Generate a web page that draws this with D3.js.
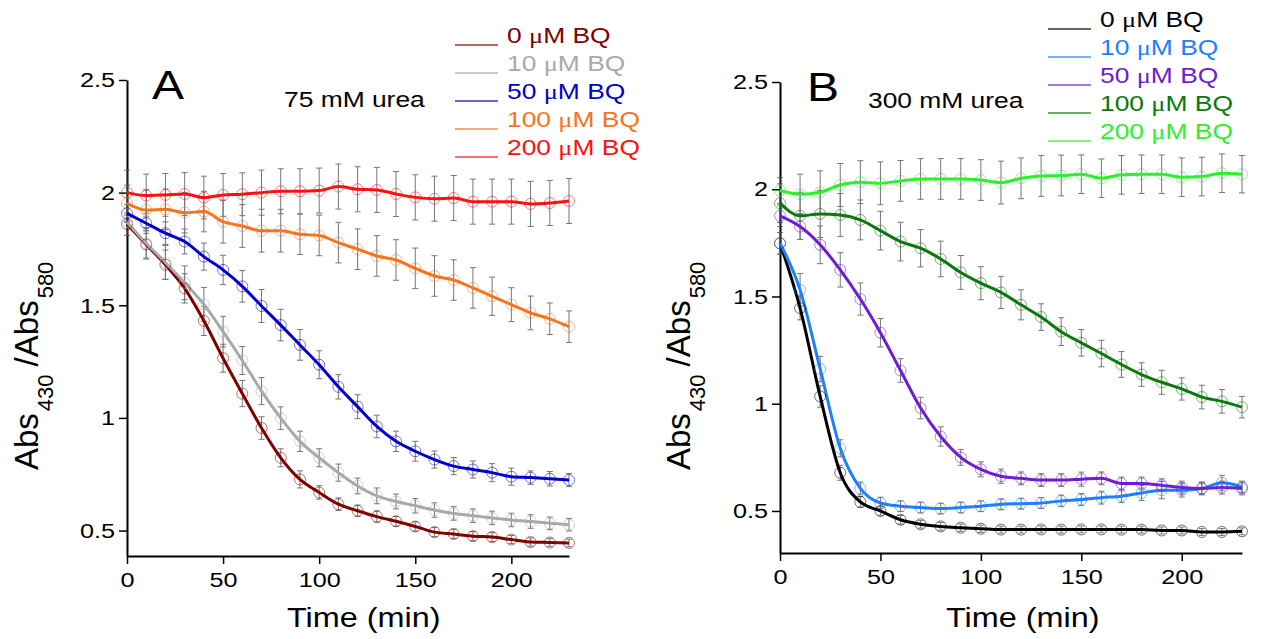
<!DOCTYPE html>
<html>
<head>
<meta charset="utf-8">
<script src="https://cdn.jsdelivr.net/npm/d3@7"></script>
<style>
  body { margin: 0; background: #fff; }
  svg { display: block; }
  text { font-family: "Liberation Sans", Arial, Helvetica, sans-serif; }
</style>
</head>
<body>
<div id="chart"></div>
<script>
// ── data ─────────────────────────────────────────────────────────
const time = [0, 10, 20, 30, 40, 50, 60, 70, 80, 90, 100, 110,
              120, 130, 140, 150, 160, 170, 180, 190, 200, 210, 220, 230];
const xTicks = [0, 50, 100, 150, 200];
const yTicks = [0.5, 1, 1.5, 2, 2.5];
const doseLabels = ["0", "10", "50", "100", "200"];

// Panel A: 75 mM urea
const a0    = [1.86, 1.77, 1.68, 1.575, 1.431, 1.265, 1.108, 0.955, 0.823, 0.727, 0.669, 0.617,
               0.588, 0.562, 0.541, 0.518, 0.493, 0.485, 0.475, 0.471, 0.46, 0.449, 0.447, 0.445];
const a0Err = [0.05, 0.06, 0.065, 0.065, 0.065, 0.062, 0.058, 0.05, 0.04, 0.038, 0.03, 0.028,
               0.025, 0.025, 0.022, 0.02, 0.02, 0.02, 0.02, 0.02, 0.018, 0.018, 0.017, 0.017];
const a10    = [1.87, 1.775, 1.69, 1.6, 1.504, 1.383, 1.255, 1.119, 0.999, 0.896, 0.823, 0.757,
                0.698, 0.654, 0.629, 0.61, 0.591, 0.576, 0.566, 0.556, 0.547, 0.54, 0.532, 0.526];
const a10Err = [0.06, 0.07, 0.075, 0.075, 0.075, 0.068, 0.062, 0.06, 0.05, 0.045, 0.04, 0.038,
                0.035, 0.035, 0.033, 0.032, 0.032, 0.03, 0.03, 0.03, 0.03, 0.03, 0.028, 0.028];
const a50    = [1.908, 1.864, 1.82, 1.783, 1.716, 1.657, 1.584, 1.497, 1.412, 1.324, 1.236, 1.138,
                1.05, 0.962, 0.896, 0.852, 0.815, 0.786, 0.771, 0.757, 0.739, 0.735, 0.73, 0.724];
const a50Err = [0.04, 0.045, 0.05, 0.055, 0.06, 0.065, 0.07, 0.073, 0.07, 0.068, 0.062, 0.054,
                0.053, 0.05, 0.045, 0.044, 0.038, 0.038, 0.038, 0.04, 0.038, 0.03, 0.032, 0.029];
const a100    = [1.953, 1.923, 1.926, 1.911, 1.916, 1.871, 1.852, 1.831, 1.831, 1.815, 1.81, 1.778,
                 1.749, 1.719, 1.701, 1.664, 1.63, 1.612, 1.577, 1.54, 1.503, 1.466, 1.44, 1.405];
const a100Err = [0.08, 0.09, 0.09, 0.09, 0.09, 0.095, 0.095, 0.095, 0.095, 0.09, 0.09, 0.09,
                 0.09, 0.09, 0.09, 0.09, 0.09, 0.09, 0.09, 0.085, 0.075, 0.075, 0.07, 0.07];
const a200    = [2.0, 1.987, 1.99, 1.994, 1.978, 1.99, 1.993, 2.0, 2.006, 2.006, 2.009, 2.027,
                 2.015, 2.012, 1.994, 1.979, 1.973, 1.976, 1.96, 1.96, 1.96, 1.95, 1.954, 1.963];
const a200Err = [0.1, 0.095, 0.095, 0.095, 0.095, 0.095, 0.095, 0.1, 0.1, 0.1, 0.1, 0.1,
                 0.1, 0.1, 0.1, 0.1, 0.1, 0.1, 0.1, 0.1, 0.1, 0.1, 0.1, 0.1];

// Panel B: 300 mM urea
const b0    = [1.748, 1.446, 1.034, 0.678, 0.542, 0.5, 0.459, 0.438, 0.428, 0.422, 0.417, 0.413,
               0.413, 0.414, 0.413, 0.414, 0.414, 0.413, 0.413, 0.409, 0.409, 0.402, 0.402, 0.405];
const b0Err = [0.05, 0.055, 0.05, 0.035, 0.025, 0.02, 0.02, 0.018, 0.018, 0.017, 0.017, 0.016,
               0.016, 0.016, 0.016, 0.016, 0.016, 0.016, 0.016, 0.016, 0.016, 0.016, 0.016, 0.016];
const b10    = [1.748, 1.531, 1.162, 0.792, 0.605, 0.537, 0.522, 0.516, 0.511, 0.516, 0.522, 0.531,
                0.534, 0.537, 0.547, 0.553, 0.562, 0.569, 0.584, 0.597, 0.597, 0.605, 0.631, 0.612];
const b10Err = [0.05, 0.076, 0.059, 0.04, 0.03, 0.027, 0.025, 0.025, 0.025, 0.025, 0.025, 0.025,
                0.025, 0.025, 0.027, 0.028, 0.03, 0.03, 0.035, 0.04, 0.032, 0.028, 0.035, 0.027];
const b50    = [1.876, 1.826, 1.741, 1.624, 1.488, 1.331, 1.155, 0.98, 0.847, 0.75, 0.694, 0.662,
                0.652, 0.644, 0.644, 0.648, 0.652, 0.628, 0.628, 0.62, 0.609, 0.605, 0.609, 0.605];
const b50Err = [0.05, 0.06, 0.088, 0.08, 0.075, 0.066, 0.055, 0.05, 0.045, 0.037, 0.035, 0.033,
                0.03, 0.03, 0.03, 0.033, 0.03, 0.03, 0.03, 0.03, 0.03, 0.03, 0.03, 0.03];
const b100    = [1.935, 1.876, 1.885, 1.88, 1.857, 1.807, 1.756, 1.725, 1.675, 1.612, 1.562, 1.519,
                 1.461, 1.404, 1.336, 1.284, 1.234, 1.183, 1.136, 1.1, 1.069, 1.031, 1.011, 0.984];
const b100Err = [0.09, 0.11, 0.11, 0.1, 0.093, 0.09, 0.09, 0.087, 0.083, 0.079, 0.077, 0.075,
                 0.07, 0.062, 0.065, 0.062, 0.062, 0.06, 0.055, 0.056, 0.052, 0.055, 0.055, 0.05];
const b200    = [1.994, 1.977, 1.986, 2.02, 2.033, 2.028, 2.039, 2.048, 2.048, 2.048, 2.043, 2.031,
                 2.051, 2.062, 2.064, 2.07, 2.051, 2.067, 2.07, 2.07, 2.056, 2.059, 2.075, 2.07];
const b200Err = [0.06, 0.093, 0.1, 0.1, 0.1, 0.1, 0.095, 0.095, 0.095, 0.095, 0.095, 0.1,
                 0.095, 0.095, 0.095, 0.09, 0.09, 0.09, 0.09, 0.09, 0.09, 0.09, 0.09, 0.087];

const colorsA = ["#7f0000", "#a9a9a9", "#0000cc", "#f7741c", "#ff1010"];
const colorsB = ["#000000", "#1f7fff", "#6f1cd2", "#0a780a", "#2cf02c"];

// ── drawing ──────────────────────────────────────────────────────
const W = 1262, H = 639;
const svg = d3.select("#chart").append("svg")
    .attr("width", W).attr("height", H)
    .attr("viewBox", `0 0 ${W} ${H}`);

// Helvetica in the original sets wide; stretch Liberation Sans to match
function wide(parent, x, y, size, fill) {
    return parent.append("text")
        .attr("transform", `translate(${x},${y}) scale(1.2,1)`)
        .style("font-size", size + "px")
        .attr("fill", fill || "#000");
}

function drawPanel(p) {
    const g = svg.append("g");
    const x = d3.scaleLinear().domain([0, 230]).range(p.xRange);
    const y = d3.scaleLinear().domain(p.yDomain).range(p.yRange);

    // axes
    const xAxis = g.append("g").attr("transform", `translate(0,${p.yRange[0]})`)
        .call(d3.axisBottom(x).tickValues(xTicks).tickSize(8).tickSizeOuter(0).tickPadding(8));
    const yAxis = g.append("g").attr("transform", `translate(${p.xRange[0]},0)`)
        .call(d3.axisLeft(y).tickValues(yTicks).tickSize(8).tickSizeOuter(0).tickPadding(2)
            .tickFormat(d => String(d)));
    [xAxis, yAxis].forEach(a => {
        a.select(".domain").attr("stroke", "#000").attr("stroke-width", 2);
        a.selectAll(".tick line").attr("stroke", "#000").attr("stroke-width", 1.5);
        a.selectAll(".tick text").attr("fill", "#000").style("font-size", "21px")
            .style("font-family", '"Liberation Sans", Arial, sans-serif')
            .attr("transform", "scale(1.2,1)");
    });

    // error bars
    const eb = g.append("g").attr("stroke", "#555").attr("stroke-width", 1).attr("opacity", 0.8);
    p.series.forEach(s => {
        s.values.forEach((v, i) => {
            const cx = x(time[i]), y1 = y(v - s.err[i]), y2 = y(v + s.err[i]);
            eb.append("line").attr("x1", cx).attr("x2", cx).attr("y1", y1).attr("y2", y2);
            eb.append("line").attr("x1", cx - 3).attr("x2", cx + 3).attr("y1", y1).attr("y2", y1);
            eb.append("line").attr("x1", cx - 3).attr("x2", cx + 3).attr("y1", y2).attr("y2", y2);
        });
    });

    // lines
    const line = d3.line().x((d, i) => x(time[i])).y(d => y(d)).curve(d3.curveMonotoneX);
    p.series.forEach(s => {
        g.append("path").datum(s.values)
            .attr("fill", "none").attr("stroke", s.color).attr("stroke-width", 3)
            .attr("stroke-linejoin", "round").attr("d", line);
    });

    // open circle markers
    p.series.forEach(s => {
        g.append("g").selectAll("circle").data(s.values).join("circle")
            .attr("cx", (d, i) => x(time[i])).attr("cy", d => y(d)).attr("r", 5.5)
            .attr("fill", "none").attr("stroke", s.color)
            .attr("stroke-opacity", 0.55).attr("stroke-width", 1);
    });

    // legend
    p.series.forEach((s, i) => {
        const ly = p.legendY + i * 28;
        g.append("line").attr("x1", p.legendX).attr("x2", p.legendX + 43)
            .attr("y1", ly).attr("y2", ly)
            .attr("stroke", s.color).attr("stroke-width", 1.5).attr("opacity", 0.8);
        const t = wide(g, p.legendX + 52, ly - 2, 22, s.color);
        t.append("tspan").text(s.dose + " ");
        t.append("tspan").style("font-family", '"Liberation Serif", "Times New Roman", serif').text("\u03bc");
        t.append("tspan").text("M BQ");
    });

    // panel letter and condition
    wide(g, p.letterX, p.letterY, 40).text(p.letter);
    wide(g, p.noteX, p.noteY, 22).text(p.note);

    // axis titles
    wide(g, p.xTitleX, 627, 27).text("Time (min)");
    const yl = g.append("text")
        .attr("transform", `translate(${p.yTitleX},470) rotate(-90)`)
        .style("font-size", "33px");
    yl.append("tspan").text("Abs");
    yl.append("tspan").attr("dx", 2).attr("dy", 15).style("font-size", "22px").text("430");
    yl.append("tspan").attr("dx", 8).attr("dy", -15).text("/Abs");
    yl.append("tspan").attr("dx", 2).attr("dy", 15).style("font-size", "22px").text("580");
}

drawPanel({
    xRange: [127, 569], yRange: [556, 80], yDomain: [0.387, 2.5],
    series: [
        { dose: doseLabels[0], values: a0,   err: a0Err,   color: colorsA[0] },
        { dose: doseLabels[1], values: a10,  err: a10Err,  color: colorsA[1] },
        { dose: doseLabels[2], values: a50,  err: a50Err,  color: colorsA[2] },
        { dose: doseLabels[3], values: a100, err: a100Err, color: colorsA[3] },
        { dose: doseLabels[4], values: a200, err: a200Err, color: colorsA[4] }
    ],
    legendX: 455, legendY: 45,
    letter: "A", letterX: 152, letterY: 99,
    note: "75 mM urea", noteX: 284, noteY: 107,
    xTitleX: 287, yTitleX: 38
});

drawPanel({
    xRange: [780, 1242], yRange: [553, 82], yDomain: [0.304, 2.5],
    series: [
        { dose: doseLabels[0], values: b0,   err: b0Err,   color: colorsB[0] },
        { dose: doseLabels[1], values: b10,  err: b10Err,  color: colorsB[1] },
        { dose: doseLabels[2], values: b50,  err: b50Err,  color: colorsB[2] },
        { dose: doseLabels[3], values: b100, err: b100Err, color: colorsB[3] },
        { dose: doseLabels[4], values: b200, err: b200Err, color: colorsB[4] }
    ],
    legendX: 1048, legendY: 29,
    letter: "B", letterX: 807, letterY: 101,
    note: "300 mM urea", noteX: 868, noteY: 108,
    xTitleX: 946, yTitleX: 690
});
</script>
</body>
</html>
